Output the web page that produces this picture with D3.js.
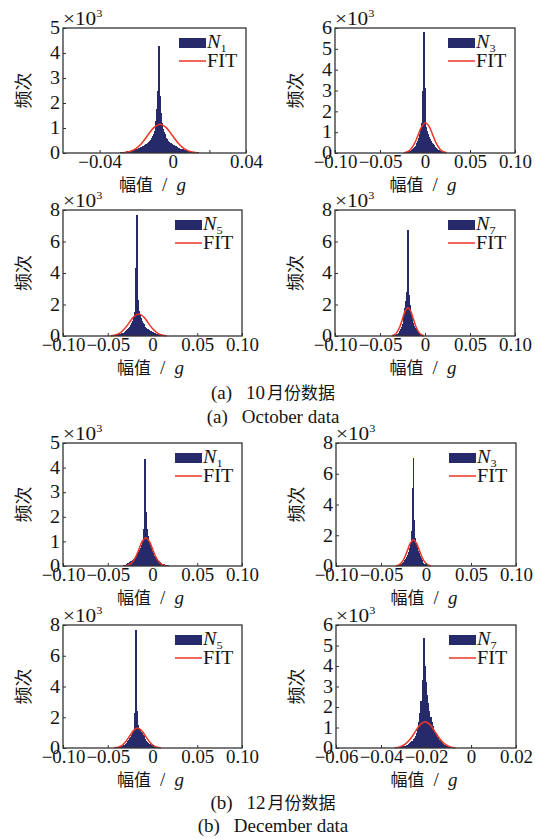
<!DOCTYPE html>
<html><head><meta charset="utf-8">
<script src="https://cdn.jsdelivr.net/npm/d3@7"></script>
<style>body{margin:0;background:#fff}svg{display:block}</style>
</head><body>
<svg id="c" width="535" height="839"></svg>
<script>
// ---------------- DATA (counts in units of 10^3) ----------------
// October N1
const octN1Start = -0.032, octN1Width = 0.0005;
const octN1Counts = [0.01,0.01,0.01,0.02,0.02,0.02,0.03,0.03,0.04,0.04,0.05,0.05,0.06,0.07,0.08,0.08,0.09,0.10,
  0.11,0.12,0.13,0.14,0.15,0.16,0.17,0.18,0.19,0.21,0.23,0.25,0.27,0.29,0.31,0.33,0.35,0.38,0.41,0.44,
  0.48,0.53,0.6,0.68,0.78,0.9,1.05,1.3,1.75,2.5, 4.3,
  2.3,1.6,1.2,0.98,0.85,0.75,0.67,0.6,0.55,0.5,0.46,0.42,0.39,0.36,0.33,0.31,0.29,0.27,0.25,0.23,
  0.21,0.19,0.18,0.17,0.16,0.15,0.14,0.13,0.12,0.11,0.10,0.09,0.08,0.07,0.06,0.06,0.05,0.05,0.04,0.04,
  0.03,0.03,0.03,0.02,0.02,0.02,0.02,0.01,0.01,0.01];
const octN1FitX = [-0.0274,-0.0240,-0.0206,-0.0172,-0.0138,-0.0104,-0.0070,-0.0036,-0.0002,0.0032,0.0066,0.0100,0.0134];
const octN1FitY = [0.013,0.050,0.156,0.373,0.697,1.015,1.15,1.015,0.697,0.373,0.156,0.050,0.013];

// October N3
const octN3Start = -0.0265, octN3Width = 0.001;
const octN3Counts = [0.01,0.01,0.02,0.02,0.03,0.04,0.05,0.06,0.08,0.10,0.12,0.15,0.18,0.22,0.27,0.33,0.4,0.48,0.58,0.7,
  0.9,1.15,1.45,3.0, 5.8,
  3.1,1.5,1.25,1.05,0.9,0.78,0.67,0.58,0.5,0.43,0.37,0.32,0.27,0.23,0.19,0.16,0.13,0.11,0.09,0.07,
  0.05,0.04,0.03,0.02,0.02,0.01];
const octN3FitX = [-0.0235,-0.0195,-0.0155,-0.0115,-0.0075,-0.0035,0.0005,0.0045,0.0085,0.0125,0.0165,0.0205,0.0245];
const octN3FitY = [0.016,0.064,0.196,0.471,0.879,1.280,1.45,1.280,0.879,0.471,0.196,0.064,0.016];

// October N5
const octN5Start = -0.048, octN5Width = 0.001;
const octN5Counts = [0.01,0.01,0.02,0.02,0.03,0.04,0.05,0.06,0.07,0.08,0.10,0.12,0.14,0.16,0.19,0.22,0.26,0.3,0.35,0.4,
  0.46,0.52,0.6,0.7,0.82,0.98,1.2,1.5,2.2,4.3, 7.7,
  2.3,1.6,1.35,1.15,0.98,0.85,0.75,0.66,0.58,0.52,0.47,0.42,0.38,0.34,0.3,0.27,0.24,0.21,0.18,0.16,
  0.14,0.12,0.10,0.09,0.08,0.07,0.06,0.05,0.04,0.03,0.02,0.02,0.01,0.01];
const octN5FitX = [-0.047,-0.04175,-0.0365,-0.03125,-0.026,-0.02075,-0.0155,-0.01025,-0.005,0.00025,0.0055,0.01075,0.016];
const octN5FitY = [0.016,0.061,0.189,0.455,0.849,1.236,1.4,1.236,0.849,0.455,0.189,0.061,0.016];

// October N7
const octN7Start = -0.037, octN7Width = 0.001;
const octN7Counts = [0.01,0.02,0.03,0.05,0.07,0.1,0.14,0.2,0.3,0.42,0.58,0.78,1.0,1.3,1.8,2.2,2.8, 6.7,
  2.6,2.0,1.5,1.15,0.95,0.8,0.65,0.52,0.42,0.33,0.25,0.18,0.13,0.09,0.06,0.04,0.02,0.01];
const octN7FitX = [-0.037,-0.034,-0.031,-0.028,-0.025,-0.022,-0.019,-0.016,-0.013,-0.010,-0.007,-0.004,-0.001];
const octN7FitY = [0.020,0.079,0.244,0.584,1.092,1.589,1.8,1.589,1.092,0.584,0.244,0.079,0.020];

// December N1
const decN1Start = -0.035, decN1Width = 0.001;
const decN1Counts = [0.01,0.02,0.03,0.04,0.06,0.08,0.1,0.12,0.14,0.16,0.19,0.22,0.25,0.29,0.33,0.37,
  0.42,0.47,0.52,0.58,0.65,0.74,0.85,1.0,1.5,2.4, 4.35,
  2.2,1.5,1.2,1.0,0.85,0.72,0.62,0.54,0.47,0.41,0.36,0.31,0.27,0.23,0.2,0.17,0.14,0.12,0.1,0.08,
  0.07,0.06,0.05,0.04,0.03,0.02,0.02,0.01];
const decN1FitX = [-0.030,-0.02625,-0.0225,-0.01875,-0.015,-0.01125,-0.0075,-0.00375,0,0.00375,0.0075,0.01125,0.015];
const decN1FitY = [0.013,0.050,0.156,0.373,0.697,1.015,1.15,1.015,0.697,0.373,0.156,0.050,0.013];

// December N3
const decN3Start = -0.034, decN3Width = 0.001;
const decN3Counts = [0.01,0.02,0.03,0.05,0.07,0.1,0.14,0.18,0.24,
  0.3,0.38,0.47,0.58,0.72,0.9,1.15,1.5,2.3,5.1, 7.0,
  3.0,1.8,1.5,1.25,1.0,0.82,0.66,0.52,0.4,0.3,0.22,0.16,0.11,0.07,0.04,0.02,0.01];
const decN3FitX = [-0.0335,-0.03025,-0.027,-0.02375,-0.0205,-0.01725,-0.014,-0.01075,-0.0075,-0.00425,-0.001,0.00225,0.0055];
const decN3FitY = [0.019,0.075,0.230,0.552,1.031,1.500,1.7,1.500,1.031,0.552,0.230,0.075,0.019];

// December N5
const decN5Start = -0.046, decN5Width = 0.001;
const decN5Counts = [0.01,0.01,0.02,0.02,0.03,0.04,0.05,0.06,0.07,0.09,0.1,0.12,0.14,0.17,0.21,0.25,0.3,0.36,0.43,0.52,
  0.62,0.72,0.82,0.95,1.15,2.3,5.2, 7.7,
  2.4,1.5,1.3,1.15,1.05,0.95,0.85,0.75,0.65,0.56,0.48,0.41,0.35,0.29,0.24,0.2,0.16,0.13,0.1,0.08,
  0.06,0.05,0.04,0.03,0.02,0.02,0.01];
const decN5FitX = [-0.0428,-0.03845,-0.0341,-0.02975,-0.0254,-0.02105,-0.0167,-0.01235,-0.008,-0.00365,0.0007,0.00505,0.0094];
const decN5FitY = [0.014,0.057,0.176,0.422,0.788,1.147,1.3,1.147,0.788,0.422,0.176,0.057,0.014];

// December N7
const decN7Start = -0.0365, decN7Width = 0.0005;
const decN7Counts = [0.01,0.01,0.01,0.02,0.02,0.02,0.03,0.03,0.04,0.05,0.06,0.07,0.08,0.1,0.12,0.14,0.17,0.2,0.24,0.29,
  0.35,0.42,0.5,0.6,0.75,0.95,1.25,1.7,2.3,3.3, 5.35,
  4.0,3.2,2.6,2.2,1.8,1.5,1.25,1.05,0.9,0.78,0.66,0.56,0.47,0.39,0.32,0.26,0.21,0.17,0.14,0.11,
  0.09,0.07,0.06,0.05,0.04,0.03,0.03,0.02,0.02,0.02,0.01,0.01,0.01,0.01,0.01];
const decN7FitX = [-0.0339,-0.03165,-0.0294,-0.02715,-0.0249,-0.02265,-0.0204,-0.01815,-0.0159,-0.01365,-0.0114,-0.00915,-0.0069];
const decN7FitY = [0.014,0.056,0.173,0.416,0.776,1.130,1.28,1.130,0.776,0.416,0.173,0.056,0.014];

// axes
const xDomainA = [-0.06, 0.04], xTicksA = [-0.04,-0.02,0,0.02,0.04], xLabelsA = ["−0.04","","0","","0.04"];
const xDomainB = [-0.1, 0.1],   xTicksB = [-0.1,-0.05,0,0.05,0.1],   xLabelsB = ["−0.10","−0.05","0","0.05","0.10"];
const xDomainC = [-0.06, 0.02], xTicksC = [-0.06,-0.04,-0.02,0,0.02], xLabelsC = ["−0.06","−0.04","−0.02","0","0.02"];
const yTicks5 = [0,1,2,3,4,5], yTicks6 = [0,1,2,3,4,5,6], yTicks8 = [0,2,4,6,8];
const seriesNames = ["1","3","5","7","1","3","5","7"];
const captions = [["(a)","10","月份数据"],["(a)","October data"],["(b)","12","月份数据"],["(b)","December data"]];

// ---------------- DRAWING ----------------
const SX = 1.12, SXT = 1.05;
const NAVY = "#262a6a", RED = "#ee3524", INK = "#151515";
const SERIF = "'Liberation Serif','Times New Roman',serif";
const CJK = "'Noto Sans CJK SC','Noto Sans CJK JP',sans-serif";
const svg = d3.select("#c");

const panels = [
  {box:[63,28,246,153],  xd:xDomainA, xt:xTicksA, xl:xLabelsA, yt:yTicks5, s:octN1Start, w:octN1Width, c:octN1Counts, fx:octN1FitX, fy:octN1FitY},
  {box:[335,28,515,153], xd:xDomainB, xt:xTicksB, xl:xLabelsB, yt:yTicks6, s:octN3Start, w:octN3Width, c:octN3Counts, fx:octN3FitX, fy:octN3FitY},
  {box:[63,210,242,336], xd:xDomainB, xt:xTicksB, xl:xLabelsB, yt:yTicks8, s:octN5Start, w:octN5Width, c:octN5Counts, fx:octN5FitX, fy:octN5FitY},
  {box:[335,210,515,336],xd:xDomainB, xt:xTicksB, xl:xLabelsB, yt:yTicks8, s:octN7Start, w:octN7Width, c:octN7Counts, fx:octN7FitX, fy:octN7FitY},
  {box:[63,443,242,566], xd:xDomainB, xt:xTicksB, xl:xLabelsB, yt:yTicks5, s:decN1Start, w:decN1Width, c:decN1Counts, fx:decN1FitX, fy:decN1FitY},
  {box:[336,443,516,566],xd:xDomainB, xt:xTicksB, xl:xLabelsB, yt:yTicks8, s:decN3Start, w:decN3Width, c:decN3Counts, fx:decN3FitX, fy:decN3FitY},
  {box:[63,625,242,748], xd:xDomainB, xt:xTicksB, xl:xLabelsB, yt:yTicks8, s:decN5Start, w:decN5Width, c:decN5Counts, fx:decN5FitX, fy:decN5FitY},
  {box:[336,625,516,748],xd:xDomainC, xt:xTicksC, xl:xLabelsC, yt:yTicks6, s:decN7Start, w:decN7Width, c:decN7Counts, fx:decN7FitX, fy:decN7FitY}
];

function stext(parent, x, y, anchor, size, family){
  return parent.append("text")
    .attr("transform", `translate(${x},${y}) scale(${SX},1)`)
    .attr("text-anchor", anchor)
    .attr("font-family", family || SERIF)
    .attr("font-size", size)
    .attr("fill", INK);
}

panels.forEach((p, k) => {
  const [L,T,R,B] = p.box;
  const x = d3.scaleLinear().domain(p.xd).range([L,R]);
  const y = d3.scaleLinear().domain([0, d3.max(p.yt)]).range([B,T]);
  const g = svg.append("g");

  // bars (overlapped + crisp so no anti-alias seams appear)
  g.append("g").attr("shape-rendering","crispEdges")
    .selectAll("rect").data(p.c).join("rect")
    .attr("x", (d,i) => x(p.s + i*p.w))
    .attr("width", (d,i) => x(p.s + (i+1)*p.w) - x(p.s + i*p.w) + 1)
    .attr("y", d => y(d))
    .attr("height", d => y(0) - y(d))
    .attr("fill", NAVY);

  // fit
  const pts = p.fx.map((v,i) => [v, p.fy[i]]);
  g.append("path").datum(pts)
    .attr("d", d3.line().x(d => x(d[0])).y(d => y(d[1])).curve(d3.curveCatmullRom))
    .attr("fill","none").attr("stroke", RED).attr("stroke-width", 1.5);

  // axes
  const ax = g.append("g").attr("transform", `translate(0,${B})`)
    .call(d3.axisBottom(x).tickValues(p.xt).tickSizeInner(-3).tickSizeOuter(0).tickPadding(2)
      .tickFormat(d => p.xl[p.xt.indexOf(d)]));
  const ay = g.append("g").attr("transform", `translate(${L},0)`)
    .call(d3.axisLeft(y).tickValues(p.yt).tickSizeInner(-3).tickSizeOuter(0).tickPadding(0)
      .tickFormat(d => String(d)));
  [ax, ay].forEach(a => {
    a.select(".domain").remove();
    a.selectAll("line").attr("stroke", "#333").attr("stroke-width", 1);
    a.selectAll("text").attr("font-family", SERIF).attr("font-size", 18).attr("fill", INK);
  });
  ax.selectAll("text").attr("transform", `scale(${SXT},1)`);
  ay.selectAll("text").attr("x", -3/SX).attr("transform", `scale(${SX},1)`);

  // box
  g.append("rect").attr("x", L).attr("y", T).attr("width", R-L).attr("height", B-T)
    .attr("fill","none").attr("stroke","#333").attr("stroke-width",1.3);

  // x10^3
  const e = stext(g, L, T-3, "start", 19);
  e.append("tspan").text("×10");
  e.append("tspan").attr("font-size", 11).attr("dy", -8).text("3");

  // y label
  g.append("text").attr("transform", `translate(${L-41},${(T+B)/2}) rotate(-90)`)
    .attr("text-anchor","middle").attr("dominant-baseline","central")
    .attr("font-family", CJK).attr("font-size", 18).attr("fill", INK).text("频次");

  // x label
  const xl = g.append("text").attr("x", (L+R)/2 - 2).attr("y", B+38).attr("text-anchor","middle").attr("fill", INK);
  xl.append("tspan").attr("font-family", CJK).attr("font-size", 17).text("幅值");
  xl.append("tspan").attr("font-family", SERIF).attr("font-size", 19).attr("dx", 9).text("/");
  xl.append("tspan").attr("font-family", SERIF).attr("font-size", 19).attr("font-style","italic").attr("dx", 9).text("g");

  // legend
  g.append("rect").attr("x", R-67).attr("y", T+10).attr("width", 27).attr("height", 10).attr("fill", NAVY);
  const n = stext(g, R-39, T+20, "start", 18);
  n.append("tspan").attr("font-style","italic").text("N");
  n.append("tspan").attr("font-size", 11).attr("dy", 4).text(seriesNames[k]);
  g.append("line").attr("x1", R-67).attr("x2", R-40).attr("y1", T+33).attr("y2", T+33)
    .attr("stroke", RED).attr("stroke-width", 1.5);
  stext(g, R-39, T+39, "start", 18).text("FIT");
});

// captions
function caption(parts, y){
  const t = svg.append("text").attr("x", 273).attr("y", y).attr("text-anchor","middle").attr("fill", INK);
  t.append("tspan").attr("font-family", SERIF).attr("font-size", 19).text(parts[0]);
  t.append("tspan").attr("font-family", SERIF).attr("font-size", 19).attr("dx", 14).text(parts[1]);
  if (parts[2]) t.append("tspan").attr("font-family", CJK).attr("font-size", 17).attr("dx", 2).text(parts[2]);
}
caption(captions[0], 399);
caption(captions[1], 423);
caption(captions[2], 809);
caption(captions[3], 832);
</script>
</body></html>
